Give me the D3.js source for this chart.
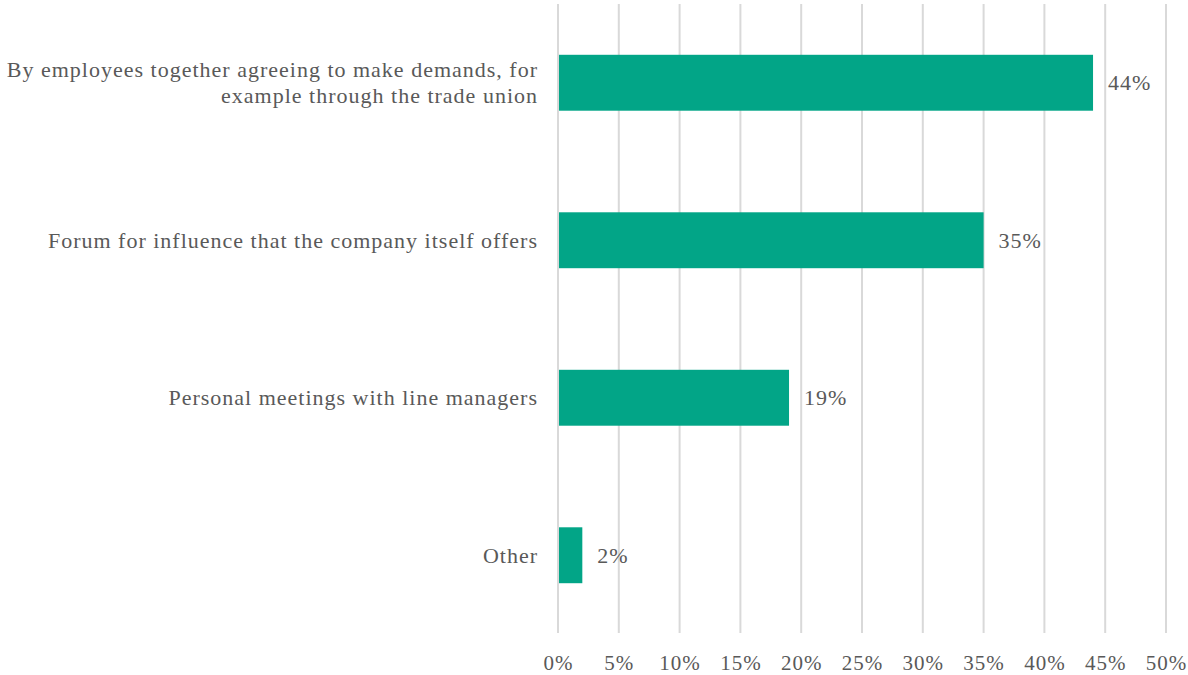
<!DOCTYPE html>
<html>
<head>
<meta charset="utf-8">
<script src="https://cdn.jsdelivr.net/npm/d3@7"></script>
<style>
  html, body { margin: 0; padding: 0; background: #fff; }
  svg { display: block; }
  text { font-family: "Liberation Serif", "DejaVu Serif", serif; fill: #595959; letter-spacing: 1px; }
</style>
</head>
<body>
<svg id="chart" width="1188" height="675"></svg>
<script>
// Survey answers: how employees best gain influence at work
const categories = [
  ["By employees together agreeing to make demands, for", "example through the trade union"],
  ["Forum for influence that the company itself offers"],
  ["Personal meetings with line managers"],
  ["Other"]
];
const values = [44, 35, 19, 2];
const tickValues = [0, 5, 10, 15, 20, 25, 30, 35, 40, 45, 50];

const W = 1188, H = 675;
const margin = { left: 558, right: 22, top: 4, bottom: 41 };
const fontSize = 22;
const svg = d3.select("#chart");

const x = d3.scaleLinear().domain([0, 50]).range([margin.left, W - margin.right]);
const y = d3.scaleBand()
  .domain(d3.range(values.length))
  .range([margin.top, H - margin.bottom])
  .paddingInner(0.645)
  .paddingOuter(0.3225);

// vertical gridlines
svg.append("g")
  .selectAll("line")
  .data(tickValues)
  .join("line")
  .attr("x1", d => x(d)).attr("x2", d => x(d))
  .attr("y1", margin.top).attr("y2", H - margin.bottom - 1)
  .attr("stroke", "#d9d9d9")
  .attr("stroke-width", 2);

// bars
svg.append("g")
  .selectAll("rect")
  .data(values)
  .join("rect")
  .attr("x", x(0) + 1)
  .attr("y", (d, i) => y(i))
  .attr("width", d => x(d) - x(0) - 1)
  .attr("height", y.bandwidth())
  .attr("fill", "#02a587");

// value labels
svg.append("g")
  .selectAll("text")
  .data(values)
  .join("text")
  .attr("x", d => x(d) + 15)
  .attr("y", (d, i) => y(i) + y.bandwidth() / 2)
  .attr("dy", "0.35em")
  .attr("font-size", fontSize)
  .text(d => d + "%");

// category labels
const catG = svg.append("g");
categories.forEach((lines, i) => {
  const cy = y(i) + y.bandwidth() / 2;
  const lh = 26;
  const t = catG.append("text")
    .attr("text-anchor", "end")
    .attr("font-size", fontSize);
  lines.forEach((ln, j) => {
    t.append("tspan")
      .attr("x", 538)
      .attr("y", cy + (j - (lines.length - 1) / 2) * lh)
      .attr("dy", "0.35em")
      .text(ln);
  });
});

// x axis tick labels
const xAxis = d3.axisBottom(x)
  .tickValues(tickValues)
  .tickFormat(d => d + "%")
  .tickSize(0)
  .tickPadding(0);
const ax = svg.append("g")
  .attr("transform", `translate(0, ${H - 12})`)
  .call(xAxis);
ax.select(".domain").remove();
ax.selectAll("text")
  .attr("dy", "0.35em")
  .attr("y", 0)
  .attr("font-size", 21)
  .style("font-family", '"Liberation Serif", "DejaVu Serif", serif')
  .attr("fill", "#595959");
</script>
</body>
</html>
